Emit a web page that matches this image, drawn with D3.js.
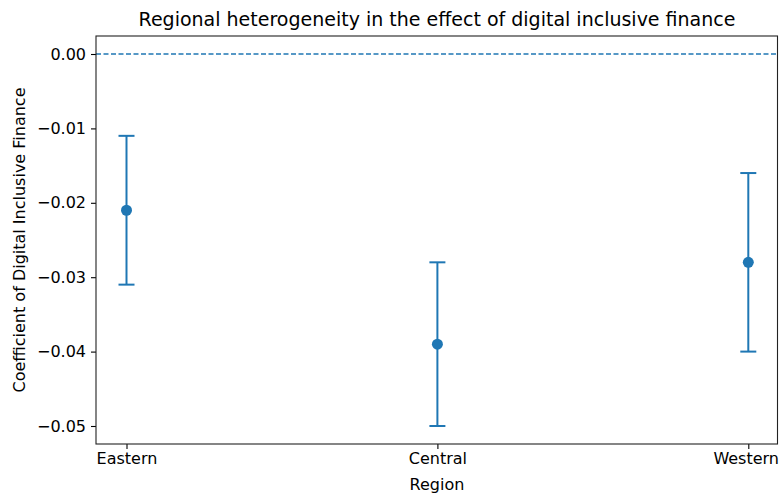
<!DOCTYPE html>
<html><head><meta charset="utf-8">
<script src="https://cdn.jsdelivr.net/npm/d3@7"></script>
<style>body{margin:0;background:#fff}svg{display:block}text{font-family:"DejaVu Sans",sans-serif;fill:#000}</style>
</head><body><svg id="c" width="779" height="493"></svg>
<script>
const regions = ["Eastern", "Central", "Western"];
const coef = [-0.021, -0.039, -0.028];
const ciLow = [-0.031, -0.050, -0.040];
const ciHigh = [-0.011, -0.028, -0.016];
const yTicks = [0.00, -0.01, -0.02, -0.03, -0.04, -0.05];

const svg = d3.select("#c");
const L = 96, R = 777.5, T = 36, B = 444;
const color = "#1f77b4";
const x = d3.scaleLinear().domain([0, 2]).range([126.5, 748.3]);
const y = d3.scaleLinear().domain([-0.05242, 0.00242]).range([B, T]);

// zero line
svg.append("line").attr("x1", L).attr("x2", R).attr("y1", y(0)).attr("y2", y(0))
  .attr("stroke", color).attr("stroke-width", 1.3).attr("stroke-dasharray", "5,2.5");

// error bars
regions.forEach((r, i) => {
  const cx = x(i);
  const g = svg.append("g");
  g.append("line").attr("x1", cx).attr("x2", cx).attr("y1", y(ciLow[i])).attr("y2", y(ciHigh[i]))
    .attr("stroke", color).attr("stroke-width", 2);
  [ciLow[i], ciHigh[i]].forEach(v => {
    g.append("line").attr("x1", cx - 8).attr("x2", cx + 8).attr("y1", y(v)).attr("y2", y(v))
      .attr("stroke", color).attr("stroke-width", 2);
  });
  g.append("circle").attr("cx", cx).attr("cy", y(coef[i])).attr("r", 5.5).attr("fill", color);
});

// axes
const yAxis = d3.axisLeft(y).tickValues(yTicks).tickSize(5).tickPadding(5)
  .tickFormat(d => d3.format(".2f")(d).replace("-", "\u2212"));
const ya = svg.append("g").attr("transform", `translate(${L},0)`).call(yAxis);
ya.select(".domain").remove();
ya.selectAll("text").attr("font-size", 16).attr("font-family", "DejaVu Sans").attr("fill", "#000");
ya.selectAll("line").attr("stroke", "#000").attr("stroke-width", 1.1);

const xAxis = d3.axisBottom(x).tickValues([0, 1, 2]).tickSize(5).tickPadding(4)
  .tickFormat(i => regions[i]);
const xa = svg.append("g").attr("transform", `translate(0,${B})`).call(xAxis);
xa.select(".domain").remove();
xa.selectAll("text").attr("font-size", 16).attr("font-family", "DejaVu Sans").attr("fill", "#000")
  .each(function(d) {
    const w = this.getComputedTextLength();
    const cx = x(d);
    if (cx + w / 2 > 778.5) d3.select(this).attr("dx", (778.5 - w / 2 - cx));
  });
xa.selectAll("line").attr("stroke", "#000").attr("stroke-width", 1.1);

// spines
svg.append("rect").attr("x", L).attr("y", T).attr("width", R - L).attr("height", B - T)
  .attr("fill", "none").attr("stroke", "#222").attr("stroke-width", 1.1);

// labels
svg.append("text").attr("x", 437).attr("y", 26).attr("text-anchor", "middle").attr("font-size", 19)
  .text("Regional heterogeneity in the effect of digital inclusive finance");
svg.append("text").attr("x", 437).attr("y", 490).attr("text-anchor", "middle").attr("font-size", 16)
  .text("Region");
svg.append("text").attr("transform", `translate(25,${(T + B) / 2}) rotate(-90)`).attr("text-anchor", "middle")
  .attr("font-size", 16).text("Coefficient of Digital Inclusive Finance");
</script></body></html>
